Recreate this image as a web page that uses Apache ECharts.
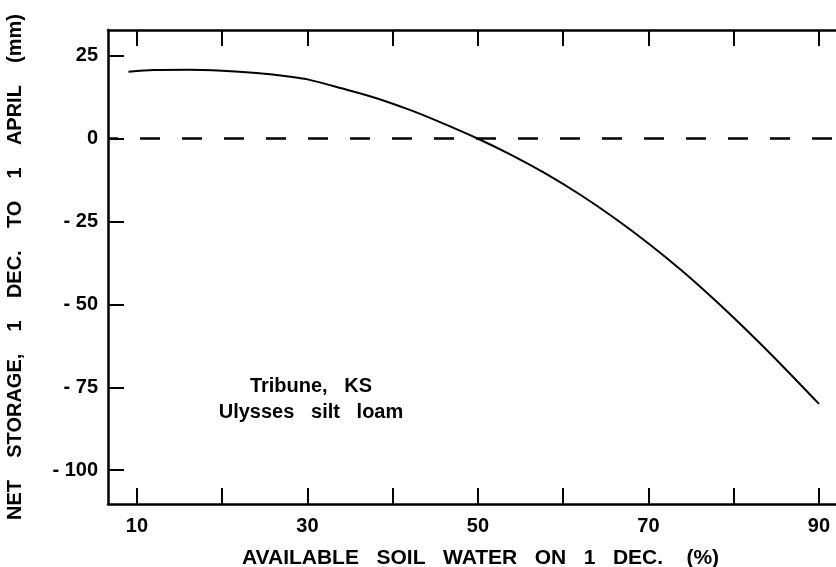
<!DOCTYPE html>
<html>
<head>
<meta charset="utf-8">
<script src="https://cdn.jsdelivr.net/npm/echarts@6/dist/echarts.min.js"></script>
<style>
html,body{margin:0;padding:0;background:#fff;}
#chart{width:836px;height:567px;}
</style>
</head>
<body>
<div id="chart"></div>
<script>
// Available soil water on 1 Dec (%)
var soilWater = [9, 12, 16, 20, 24, 28, 30, 34, 38, 42, 45, 50, 54, 58, 62, 66, 70, 74, 78, 82, 86, 90];
// Net storage, 1 Dec to 1 April (mm)
var netStorage = [20.2, 20.7, 20.8, 20.5, 19.8, 18.7, 17.9, 15.2, 12.3, 8.7, 5.6, 0, -5.0, -10.6, -16.9, -23.9, -31.6, -40.0, -49.2, -59.0, -69.3, -80];
var xTicks = [10, 20, 30, 40, 50, 60, 70, 80, 90];
var xTickLabels = [10, 30, 50, 70, 90];
var yTickLabels = [25, 0, -25, -50, -75, -100];
var xTitle = 'AVAILABLE   SOIL   WATER   ON   1   DEC.    (%)';
var yTitle = 'NET    STORAGE,    1    DEC.    TO    1    APRIL    (mm)';
var noteLines = ['Tribune,   KS', 'Ulysses   silt   loam'];

var FONT = '"Liberation Sans", Arial, Helvetica, sans-serif';
var INK = '#000';
var chart = echarts.init(document.getElementById('chart'), null, {renderer: 'canvas'});

var pts = soilWater.map(function (x, i) { return [x, netStorage[i]]; });
var lineAx = {show: true, onZero: false, lineStyle: {color: INK, width: 2.5}};

chart.setOption({
  backgroundColor: '#fff',
  animation: false,
  grid: {left: 108, top: 30, width: 745, height: 474, containLabel: false, outerBoundsMode: 'none'},
  xAxis: [{
    type: 'value', position: 'bottom', min: 6.6, max: 6.6 + 745 / 8.525,
    axisLine: lineAx,
    axisTick: {show: true, inside: true, length: 16, customValues: xTicks, lineStyle: {color: INK, width: 2}},
    axisLabel: {show: true, customValues: xTickLabels, margin: 12, color: INK, fontSize: 20, fontWeight: 'bold', fontFamily: FONT},
    splitLine: {show: false},
    name: xTitle, nameLocation: 'middle', nameGap: 44,
    nameTextStyle: {color: INK, fontSize: 21, fontWeight: 'bold', fontFamily: FONT}
  }, {
    type: 'value', position: 'top', min: 6.6, max: 6.6 + 745 / 8.525,
    axisLine: lineAx,
    axisTick: {show: true, inside: true, length: 16, customValues: xTicks, lineStyle: {color: INK, width: 2}},
    axisLabel: {show: false},
    splitLine: {show: false}
  }],
  yAxis: [{
    type: 'value', position: 'left', min: -110.2, max: 32.8,
    axisLine: lineAx,
    axisTick: {show: true, inside: true, length: 16, customValues: yTickLabels, lineStyle: {color: INK, width: 2}},
    axisLabel: {show: true, customValues: yTickLabels, margin: 10, color: INK, fontSize: 20, fontWeight: 'bold', fontFamily: FONT,
      formatter: function (v) { return v < 0 ? '- ' + Math.abs(v) : String(v); }},
    splitLine: {show: false},
    name: yTitle, nameLocation: 'middle', nameGap: 83, nameRotate: 90,
    nameTextStyle: {color: INK, fontSize: 20, fontWeight: 'bold', fontFamily: FONT}
  }, {
    type: 'value', position: 'right', min: -110.2, max: 32.8,
    axisLine: {show: false},
    axisTick: {show: true, inside: true, length: 16, customValues: yTickLabels, lineStyle: {color: INK, width: 2}},
    axisLabel: {show: false},
    splitLine: {show: false}
  }],
  graphic: [{
    type: 'text', x: 311, y: 373,
    style: {text: noteLines.join('\n'), fill: INK, font: 'bold 20px ' + FONT, align: 'center', verticalAlign: 'top', lineHeight: 26}
  }],
  series: [{
    type: 'line', xAxisIndex: 0, yAxisIndex: 0,
    data: pts, smooth: 0.3, symbol: 'none',
    lineStyle: {color: INK, width: 2},
    markLine: {
      silent: true, symbol: 'none', label: {show: false},
      lineStyle: {color: INK, width: 2.5, type: [20, 22], dashOffset: 10},
      data: [{yAxis: 0}]
    }
  }]
});
</script>
</body>
</html>
